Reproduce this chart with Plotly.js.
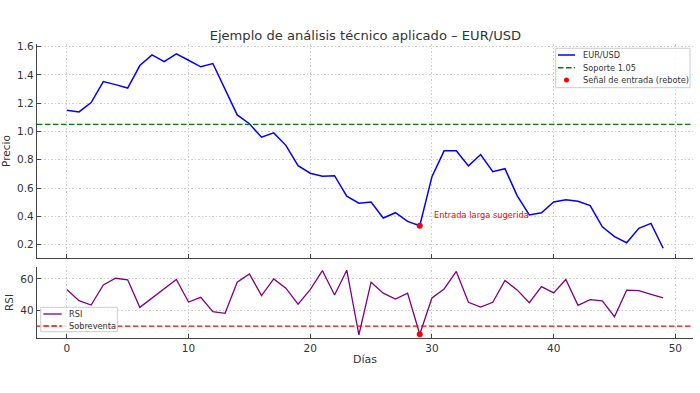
<!DOCTYPE html>
<html>
<head>
<meta charset="utf-8">
<script src="https://cdn.plot.ly/plotly-3.0.1.min.js"></script>
<style>html,body{margin:0;padding:0;background:#fff;}#chart{width:700px;height:393px;}</style>
</head>
<body>
<div id="chart"></div>
<script>
const days = [0,1,2,3,4,5,6,7,8,9,10,11,12,13,14,15,16,17,18,19,20,21,22,23,24,25,26,27,28,29,30,31,32,33,34,35,36,37,38,39,40,41,42,43,44,45,46,47,48,49];
const price = [1.150,1.138,1.204,1.353,1.331,1.307,1.466,1.541,1.494,1.549,1.503,1.457,1.480,1.294,1.117,1.055,0.960,0.990,0.902,0.758,0.705,0.684,0.688,0.543,0.493,0.502,0.389,0.426,0.365,0.334,0.681,0.863,0.863,0.757,0.837,0.716,0.737,0.547,0.410,0.426,0.502,0.518,0.507,0.476,0.327,0.257,0.214,0.316,0.351,0.175];
const rsi = [53.2,46.2,43.4,56.2,60.4,59.4,41.9,47.9,53.6,59.6,45.3,48.3,39.2,38.1,57.9,63.2,49.4,60.0,54.1,43.9,53.2,65.3,49.8,65.5,24.5,57.9,50.9,47.2,50.9,24.8,47.9,53.6,64.7,45.1,42.1,45.1,59.0,53.0,44.9,55.1,51.1,59.6,43.2,46.8,46.0,36.0,52.8,52.6,50.2,47.9];
const supportLevel = 1.05;
const oversoldLevel = 30;
const signalDay = 29;
const xTicks = [0,10,20,30,40,50];
const priceTicks = [0.2,0.4,0.6,0.8,1.0,1.2,1.4,1.6];
const rsiTicks = [40,60];
const priceLegend = ['EUR/USD', 'Soporte 1.05', 'Señal de entrada (rebote)'];
const rsiLegend = ['RSI', 'Sobreventa'];

const txt = '#333';
const spine = '#444';
const fontFam = 'DejaVu Sans, sans-serif';
const DASH = '5.5px,2.5px';

// plot area in pixels (from margins) -> paper coordinate helpers
const W = 700, H = 393, M = {l: 37, r: 7, t: 44, b: 55};
const PW = W - M.l - M.r, PH = H - M.t - M.b;
const px = v => (v - M.l) / PW;
const py = v => (H - M.b - v) / PH;

const traces = [
  {x: days, y: price, xaxis: 'x2', yaxis: 'y', type: 'scatter', mode: 'lines',
   name: priceLegend[0], line: {color: '#0000ff', width: 1.5}, showlegend: false},
  {x: [days[signalDay]], y: [price[signalDay]], xaxis: 'x2', yaxis: 'y', type: 'scatter', mode: 'markers',
   name: priceLegend[2], marker: {color: 'red', size: 6}, showlegend: false},
  {x: days, y: rsi, xaxis: 'x', yaxis: 'y2', type: 'scatter', mode: 'lines',
   name: rsiLegend[0], line: {color: 'purple', width: 1.3}, showlegend: false},
  {x: [days[signalDay]], y: [rsi[signalDay]], xaxis: 'x', yaxis: 'y2', type: 'scatter', mode: 'markers',
   name: 'RSI señal', marker: {color: 'red', size: 6}, showlegend: false}
];

const axBase = {
  showline: true, linecolor: spine, linewidth: 1.2, ticks: 'inside', ticklen: 4, tickcolor: spine,
  zeroline: false, tickfont: {family: fontFam, size: 10.5, color: txt},
  showgrid: true, gridcolor: '#c8c8c8', griddash: '1.5px,2px', gridwidth: 0.9
};

const shapes = [
  {type: 'line', xref: 'x2 domain', yref: 'y', x0: 0, x1: 1, y0: supportLevel, y1: supportLevel,
   line: {color: 'green', width: 1.4, dash: DASH}},
  {type: 'line', xref: 'x domain', yref: 'y2', x0: 0, x1: 1, y0: oversoldLevel, y1: oversoldLevel,
   line: {color: 'red', width: 1.4, dash: DASH}}
];
const annotations = [
  {text: 'Entrada larga sugerida', xref: 'x2', yref: 'y', x: days[signalDay] + 1, y: price[signalDay] + 0.075,
   xanchor: 'left', yanchor: 'middle', showarrow: false, font: {family: fontFam, size: 8.3, color: 'red'}}
];

function legendBox(x0, x1, y0, y1) {
  shapes.push({type: 'rect', xref: 'paper', yref: 'paper', x0: px(x0), x1: px(x1), y0: py(y1), y1: py(y0),
    layer: 'above', fillcolor: 'rgba(255,255,255,0.8)', line: {color: '#cccccc', width: 1}});
}
function legendLine(x0, x1, y, color, dash, width) {
  shapes.push({type: 'line', xref: 'paper', yref: 'paper', x0: px(x0), x1: px(x1), y0: py(y), y1: py(y),
    layer: 'above', line: {color: color, width: width, dash: dash}});
}
function legendText(x, y, t) {
  annotations.push({text: t, xref: 'paper', yref: 'paper', x: px(x), y: py(y), xanchor: 'left', yanchor: 'middle',
    showarrow: false, font: {family: fontFam, size: 8.2, color: txt}});
}
legendBox(555.7, 690, 48.3, 87.7);
legendLine(558, 575, 55, '#0000ff', 'solid', 1.5);
legendText(580.5, 55, priceLegend[0]);
legendLine(558, 575, 67.7, 'green', DASH, 1.4);
legendText(580.5, 67.7, priceLegend[1]);
shapes.push({type: 'circle', xref: 'paper', yref: 'paper', x0: px(564), x1: px(569), y0: py(82.5), y1: py(77.5),
  layer: 'above', fillcolor: 'red', line: {color: 'red', width: 0}});
legendText(580.5, 80, priceLegend[2]);

legendBox(40.7, 117.3, 307.3, 331.7);
legendLine(43.3, 61.7, 314, 'purple', 'solid', 1.3);
legendText(67, 314, rsiLegend[0]);
legendLine(43.3, 61.7, 326, 'red', DASH, 1.4);
legendText(67, 326, rsiLegend[1]);

const layout = {
  width: W, height: H,
  margin: M,
  paper_bgcolor: '#fff', plot_bgcolor: '#fff',
  font: {family: fontFam, color: txt},
  showlegend: false,
  title: {text: 'Ejemplo de análisis técnico aplicado – EUR/USD', x: 0.522, xanchor: 'center', y: 0.91, yanchor: 'middle',
          font: {family: fontFam, size: 13.1, color: txt}},
  xaxis: Object.assign({}, axBase, {anchor: 'y2', range: [-2.45, 51.45], tickvals: xTicks,
          title: {text: 'Días', font: {family: fontFam, size: 11, color: txt}, standoff: 2}}),
  xaxis2: Object.assign({}, axBase, {anchor: 'y', matches: 'x', range: [-2.45, 51.45], tickvals: xTicks, showticklabels: false}),
  yaxis: Object.assign({}, axBase, {domain: [0.272, 1], range: [0.106, 1.618], tickvals: priceTicks, tickformat: '.1f',
          title: {text: 'Precio', font: {family: fontFam, size: 10.5, color: txt}, standoff: 4}}),
  yaxis2: Object.assign({}, axBase, {domain: [0, 0.2415], range: [22.45, 67.55], tickvals: rsiTicks,
          title: {text: 'RSI', font: {family: fontFam, size: 10.5, color: txt}, standoff: 4}}),
  shapes: shapes,
  annotations: annotations
};

Plotly.newPlot('chart', traces, layout, {staticPlot: true, displayModeBar: false});
</script>
</body>
</html>
